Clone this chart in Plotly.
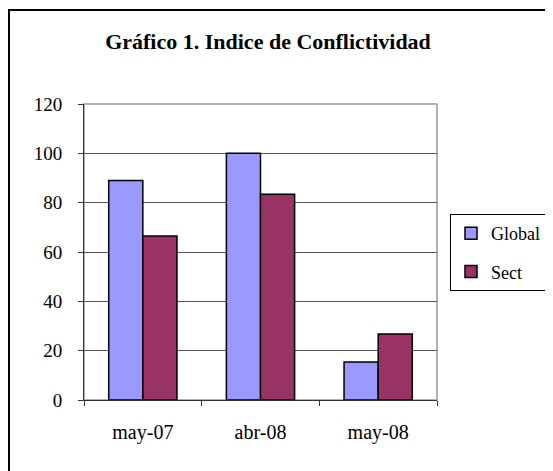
import plotly.graph_objects as go

categories = ["may-07", "abr-08", "may-08"]
global_vals = [89, 100, 15.4]
sect_vals = [66.5, 83.4, 26.8]
y_ticks = [0, 20, 40, 60, 80, 100, 120]

OFF = 8  # page body margin
W, H = 545, 471 - OFF
L, R, T, B = 84 - OFF, 437 - OFF, 104 - OFF, 400 - OFF
FONT = "Liberation Serif, Times New Roman, serif"

fig = go.Figure()
fig.add_trace(go.Bar(name="Global", x=categories, y=global_vals,
                     marker=dict(color="#9999FF", line=dict(color="black", width=1.5)),
                     legendgroup="g"))
fig.add_trace(go.Bar(name="Sect", x=categories, y=sect_vals,
                     marker=dict(color="#993366", line=dict(color="black", width=1.5)),
                     legendgroup="s"))

pw, ph = R - L, B - T
def px(x):
    return (x - L) / pw
def py(y):
    return (B - y) / ph

fig.update_layout(
    width=W, height=H,
    margin=dict(l=L, r=W - R, t=T, b=H - B, pad=0, autoexpand=False),
    paper_bgcolor="white", plot_bgcolor="white",
    font=dict(family=FONT, size=19, color="black"),
    barmode="group", bargap=0.42, bargroupgap=0,
    title=dict(text="<b>Gráfico 1. Indice de Conflictividad</b>",
               font=dict(family=FONT, size=22, color="black"),
               x=(268 - OFF) / W, xref="container", xanchor="center",
               y=1 - (41 - OFF) / H, yref="container", yanchor="middle"),
    xaxis=dict(type="category", tickson="boundaries", ticks="outside", ticklen=5,
               tickcolor="#333", showline=True, linecolor="#333", linewidth=1,
               showgrid=False, ticklabelstandoff=14, tickfont=dict(family=FONT, size=20)),
    yaxis=dict(range=[0, 120], tickvals=y_ticks, ticks="outside", ticklen=5,
               tickcolor="#333", showline=True, linecolor="#333", linewidth=1,
               showgrid=True, gridcolor="#555", gridwidth=1, zeroline=False,
               ticklabelstandoff=12, tickfont=dict(family=FONT, size=19)),
    legend=dict(xref="container", yref="container",
                x=(450 - OFF) / W, y=1 - (214 - OFF) / H, xanchor="left", yanchor="top",
                bordercolor="black", borderwidth=1, bgcolor="white",
                font=dict(family=FONT, size=18, color="black"), tracegroupgap=12,
                itemclick=False),
    showlegend=True,
    shapes=[
        dict(type="rect", xref="paper", yref="paper", x0=0, x1=1, y0=0, y1=1,
             line=dict(color="#999", width=1.5), layer="below"),
        dict(type="rect", xref="paper", yref="paper", x0=px(1), x1=px(700),
             y0=py(2), y1=py(700), line=dict(color="black", width=2), layer="below"),
    ],
)

fig.write_html("out.html")
